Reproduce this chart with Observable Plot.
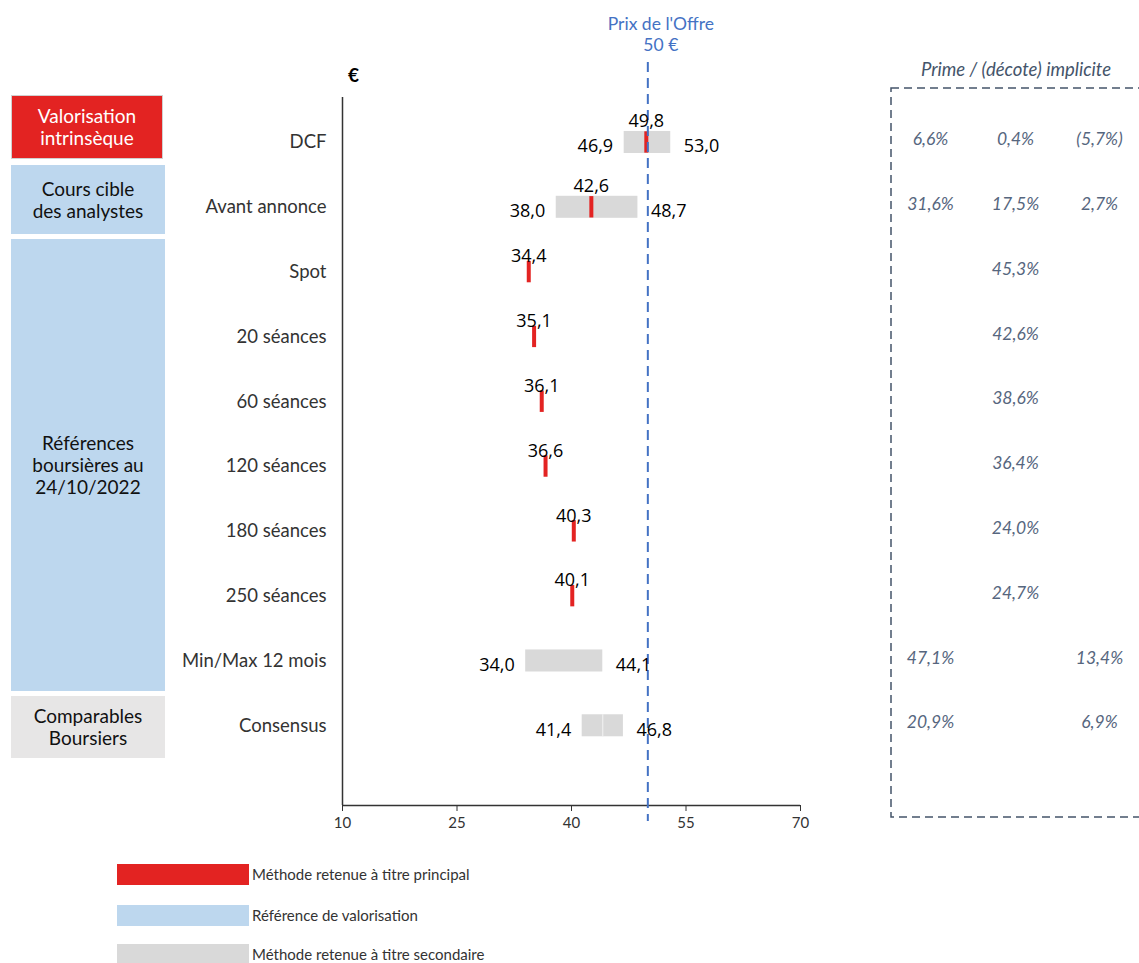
<!DOCTYPE html>
<html>
<head>
<meta charset="utf-8">
<script src="https://cdn.jsdelivr.net/npm/d3@7"></script>
<script src="https://cdn.jsdelivr.net/npm/@observablehq/plot@0.6"></script>
<style>
  body { margin: 0; width: 1139px; height: 963px; overflow: hidden; position: relative; background: #fff; font-family: Lato, "Noto Sans", sans-serif; }
  #chart { position: absolute; left: 0; top: 0; }
  .box { position: absolute; left: 11px; width: 154px; box-sizing: border-box; display: flex; align-items: center; justify-content: center; text-align: center; font-size: 19px; line-height: 22px; color: #111; white-space: pre-line; }
  .sw { position: absolute; left: 117px; width: 132px; height: 21px; }
  .lg { position: absolute; left: 252px; height: 21px; line-height: 21px; font-size: 15px; color: #333; }
  #deco { position: absolute; left: 0; top: 0; pointer-events: none; }
</style>
</head>
<body>
<div id="chart"></div>
<div id="groups"></div>
<div id="legend"></div>
<svg id="deco" width="1139" height="963"></svg>
<script>
// ---- data ----
const categories = ["DCF", "Avant annonce", "Spot", "20 séances", "60 séances", "120 séances", "180 séances", "250 séances", "Min/Max 12 mois", "Consensus"];
const mainValues = [49.8, 42.6, 34.4, 35.1, 36.1, 36.6, 40.3, 40.1, null, null];
const rangeLow  = [46.9, 38.0, null, null, null, null, null, null, 34.0, 41.4];
const rangeHigh = [53.0, 48.7, null, null, null, null, null, null, 44.1, 46.8];
const premiumLow  = ["6,6%", "31,6%", null, null, null, null, null, null, "47,1%", "20,9%"];
const premiumMid  = ["0,4%", "17,5%", "45,3%", "42,6%", "38,6%", "36,4%", "24,0%", "24,7%", null, null];
const premiumHigh = ["(5,7%)", "2,7%", null, null, null, null, null, null, "13,4%", "6,9%"];
const offerPrice = 50;
const offerLabel = "Prix de l'Offre\n50 €";
const xTicks = [10, 25, 40, 55, 70];
const groupLabels = ["Valorisation\nintrinsèque", "Cours cible\ndes analystes", "Références\nboursières au\n24/10/2022", "Comparables\nBoursiers"];
const legendLabels = ["Méthode retenue à titre principal", "Référence de valorisation", "Méthode retenue à titre secondaire"];
const premiumTitle = "Prime / (décote) implicite";

// ---- build ----
const fmt = v => d3.format(".1f")(v).replace(".", ",");
const rows = categories.map((c, i) => ({
  i, c, main: mainValues[i], lo: rangeLow[i], hi: rangeHigh[i],
  pl: premiumLow[i], pm: premiumMid[i], ph: premiumHigh[i]
}));
const ranged = rows.filter(d => d.lo != null);
const mains = rows.filter(d => d.main != null);
const yTop = -0.694, yBottom = 10.23;
const hb = 0.17, hm = 0.165;
const valueFont = "'Open Sans', sans-serif";
const premColor = "#56667e";

const chart = Plot.plot({
  width: 1139, height: 963,
  marginLeft: 342, marginRight: 339, marginTop: 97, marginBottom: 158,
  x: {domain: [10, 70]},
  y: {domain: [yBottom, yTop]},
  style: {fontFamily: "Lato, sans-serif", overflow: "visible", background: "transparent"},
  marks: [
    Plot.axisY({ticks: d3.range(categories.length), tickFormat: i => categories[i], tickSize: 0, tickPadding: 16, fontSize: 18.5, color: "#333", label: null}),
    Plot.axisX({ticks: xTicks, tickSize: 6, tickPadding: 6, fontSize: 15, color: "#333", label: null}),
    Plot.ruleX([10], {stroke: "#333", strokeWidth: 1.5}),
    Plot.ruleY([yBottom], {stroke: "#333", strokeWidth: 1.5}),
    Plot.rect(ranged, {x1: "lo", x2: "hi", y1: d => d.i - hb, y2: d => d.i + hb, fill: "#d9d9d9"}),
    Plot.ruleX(ranged.filter(d => d.c === "Consensus"), {x: d => (d.lo + d.hi) / 2, y1: d => d.i - hb, y2: d => d.i + hb, stroke: "#f4f4f4", strokeWidth: 1}),
    Plot.ruleX(mains, {x: "main", y1: d => d.i - hm, y2: d => d.i + hm, stroke: "#e32322", strokeWidth: 4}),
    Plot.ruleX([offerPrice], {stroke: "#4472c4", strokeWidth: 2, strokeDasharray: "10,6", insetTop: -35, insetBottom: -16}),
    Plot.text([offerLabel], {x: offerPrice, frameAnchor: "top", text: d => d, dx: 13, dy: -64, lineAnchor: "middle", textAnchor: "middle", lineHeight: 1.25, fill: "#4472c4", fontSize: 17.5}),
    Plot.text(["€"], {frameAnchor: "top-left", text: d => d, dx: 11, dy: -22, textAnchor: "middle", lineAnchor: "middle", fontWeight: "bold", fontSize: 19, fill: "#000"}),
    // main value labels
    Plot.text(mains.filter(d => d.lo != null), {x: "main", y: d => d.i - hm, text: d => fmt(d.main), lineAnchor: "bottom", dy: -5, fontSize: 18, fontFamily: valueFont, fill: "#000"}),
    Plot.text(mains.filter(d => d.lo == null), {x: "main", y: d => d.i - hm, text: d => fmt(d.main), lineAnchor: "bottom", dy: 1, fontSize: 18, fontFamily: valueFont, fill: "#000"}),
    // range labels
    Plot.text(ranged, {x: "lo", y: "i", text: d => fmt(d.lo), textAnchor: "end", dx: -11, dy: 4, fontSize: 18, fontFamily: valueFont, fill: "#000"}),
    Plot.text(ranged, {x: "hi", y: "i", text: d => fmt(d.hi), textAnchor: "start", dx: 13, dy: 4, fontSize: 18, fontFamily: valueFont, fill: "#000"}),
    // premium table
    Plot.text(rows.filter(d => d.pl), {y: "i", text: "pl", frameAnchor: "right", textAnchor: "middle", dx: 130, dy: -3, fontStyle: "italic", fontSize: 17.5, fill: premColor}),
    Plot.text(rows.filter(d => d.pm), {y: "i", text: "pm", frameAnchor: "right", textAnchor: "middle", dx: 215, dy: -3, fontStyle: "italic", fontSize: 17.5, fill: premColor}),
    Plot.text(rows.filter(d => d.ph), {y: "i", text: "ph", frameAnchor: "right", textAnchor: "middle", dx: 299, dy: -3, fontStyle: "italic", fontSize: 17.5, fill: premColor})
  ]
});
document.getElementById("chart").append(chart);

// ---- group boxes (left) ----
const groupStyles = [
  "top:95px;height:64px;width:152px;background:#e32322;color:#fff;border:1px solid #d0d0d0;",
  "top:165px;height:69px;background:#bdd7ee;",
  "top:239px;height:452px;background:#bdd7ee;",
  "top:696px;height:62px;background:#e7e6e6;"
];
const gEl = document.getElementById("groups");
groupLabels.forEach((t, k) => {
  const d = document.createElement("div");
  d.className = "box";
  d.style.cssText = groupStyles[k];
  d.textContent = t;
  gEl.append(d);
});

// ---- legend ----
const legendColors = ["#e32322", "#bdd7ee", "#d9d9d9"];
const legendTops = [864, 905, 944];
const lEl = document.getElementById("legend");
legendLabels.forEach((t, k) => {
  const s = document.createElement("div");
  s.className = "sw";
  s.style.top = legendTops[k] + "px";
  s.style.background = legendColors[k];
  const l = document.createElement("div");
  l.className = "lg";
  l.style.top = legendTops[k] + "px";
  l.textContent = t;
  lEl.append(s, l);
});

// ---- premium panel frame and title ----
const deco = d3.select("#deco");
deco.append("rect").attr("x", 891).attr("y", 88).attr("width", 300).attr("height", 729)
  .attr("fill", "none").attr("stroke", "#44546a").attr("stroke-width", 1.5).attr("stroke-dasharray", "8,5");
deco.append("text").attr("x", 1016).attr("y", 76).attr("text-anchor", "middle")
  .attr("font-family", "Lato, sans-serif").attr("font-style", "italic").attr("font-size", 18.5)
  .attr("fill", "#44546a").text(premiumTitle);
</script>
</body>
</html>
